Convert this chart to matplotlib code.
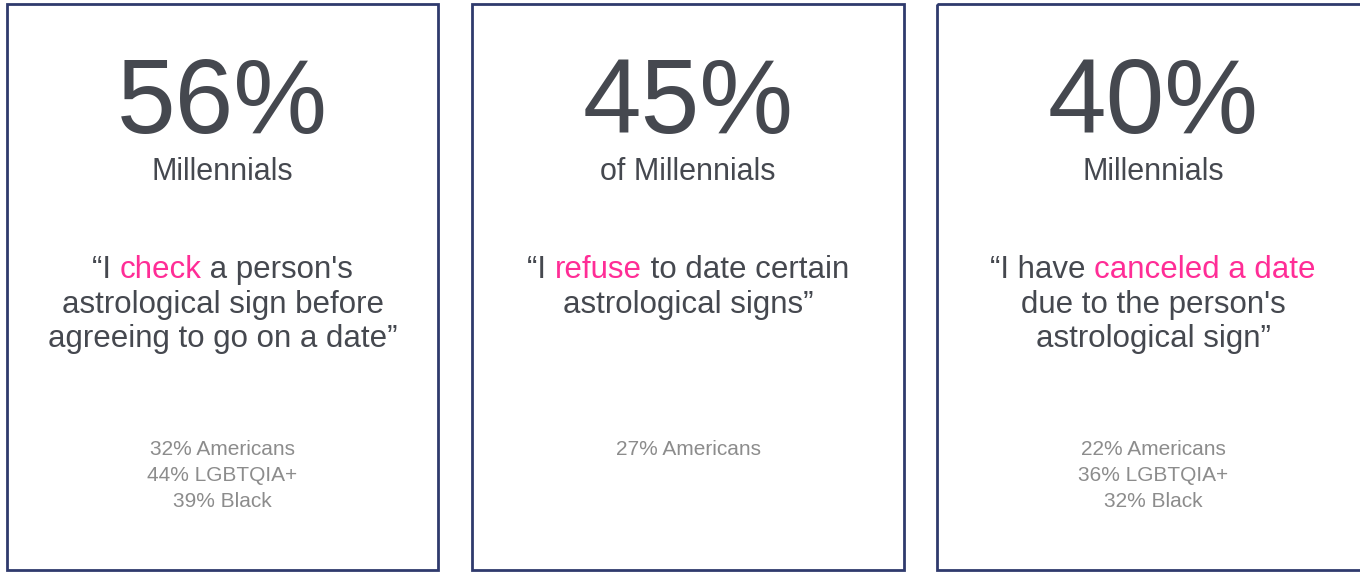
import matplotlib
matplotlib.use('Agg')
import matplotlib.pyplot as plt
from matplotlib.patches import Rectangle

# values
percents = ['56%', '45%', '40%']
groups = ['Millennials', 'of Millennials', 'Millennials']
# each quote: list of lines, each line a list of (text, highlighted)
quotes = [
    [[('\u201cI ', False), ('check', True), (" a person's", False)],
     [('astrological sign before', False)],
     [('agreeing to go on a date\u201d', False)]],
    [[('\u201cI ', False), ('refuse', True), (' to date certain', False)],
     [('astrological signs\u201d', False)]],
    [[('\u201cI have ', False), ('canceled a date', True)],
     [("due to the person's", False)],
     [('astrological sign\u201d', False)]],
]
footers = [
    ['32% Americans', '44% LGBTQIA+', '39% Black'],
    ['27% Americans'],
    ['22% Americans', '36% LGBTQIA+', '32% Black'],
]

box_left = [7, 472, 937]
box_w = [431, 432, 432]

DARK = '#45484f'
PINK = '#ff2d96'
GREY = '#8c8c8c'
NAVY = '#2f3a6d'

fig = plt.figure(figsize=(13.6, 5.72), dpi=100)
ax = fig.add_axes([0, 0, 1, 1])
ax.set_xlim(0, 1360)
ax.set_ylim(572, 0)
ax.axis('off')

fig.canvas.draw()
renderer = fig.canvas.get_renderer()


def text_width(s, **kw):
    t = ax.text(0, 0, s, **kw)
    bb = t.get_window_extent(renderer=renderer)
    t.remove()
    return bb.width


quote_font = dict(fontsize=22.5, family='Liberation Sans')

for i in range(3):
    x0 = box_left[i]
    cx = x0 + box_w[i] / 2
    ax.add_patch(Rectangle((x0, 4), box_w[i], 566, fill=False,
                           edgecolor=NAVY, linewidth=2))
    ax.text(cx, 133, percents[i], ha='center', va='baseline', fontsize=76,
            family='Liberation Sans', color=DARK)
    ax.text(cx, 180, groups[i], ha='center', va='baseline', fontsize=22,
            family='Liberation Sans', color=DARK)

    for j, line in enumerate(quotes[i]):
        y = 278 + j * 34.5
        widths = [text_width(seg, **quote_font) for seg, hi in line]
        xs = cx - sum(widths) / 2
        for (seg, hi), w in zip(line, widths):
            ax.text(xs, y, seg, ha='left', va='baseline',
                    color=PINK if hi else DARK, **quote_font)
            xs += w

    for j, f in enumerate(footers[i]):
        ax.text(cx, 455 + j * 26, f, ha='center', va='baseline', fontsize=15,
                family='Liberation Sans', color=GREY)

fig.savefig('out.png', dpi=100)
